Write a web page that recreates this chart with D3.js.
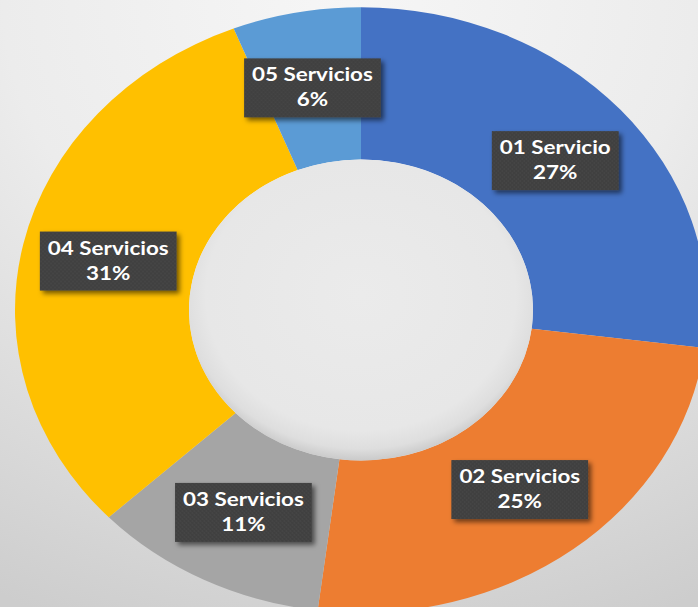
<!DOCTYPE html>
<html>
<head>
<meta charset="utf-8">
<script src="https://cdn.jsdelivr.net/npm/d3@7"></script>
<style>
  html, body { margin: 0; padding: 0; background: #e4e4e4; }
  svg { display: block; }
</style>
</head>
<body>
<script>
// Data
const categories = ["01 Servicio", "02 Servicios", "03 Servicios", "04 Servicios", "05 Servicios"];
const values = [27, 25, 11, 31, 6];
const colors = ["#4472C4", "#ED7D31", "#A5A5A5", "#FFC000", "#5B9BD5"];

let width = 698, height = 607;
let cx = 361, cy = 310;
let outerR = 346, innerR = 172;
let squash = 0.875;      // the chart is stretched wider than tall
let textStretch = 1.18;  // text is stretched the same way

let total = d3.sum(values);
let rows = categories.map((c, i) => ({ name: c, value: values[i], color: colors[i] }));

let svg = d3.select("body")
    .append("svg")
    .attr("width", width)
    .attr("height", height);

let defs = svg.append("defs");

// background gradient
let bg = defs.append("radialGradient")
    .attr("id", "bg")
    .attr("cx", "50%").attr("cy", "0%").attr("r", "110%");
bg.append("stop").attr("offset", "0%").attr("stop-color", "#f6f6f6");
bg.append("stop").attr("offset", "45%").attr("stop-color", "#ececec");
bg.append("stop").attr("offset", "100%").attr("stop-color", "#cdcdcd");

// hole gradient
let hole = defs.append("radialGradient")
    .attr("id", "hole")
    .attr("cx", "50%").attr("cy", "45%").attr("r", "55%");
hole.append("stop").attr("offset", "0%").attr("stop-color", "#ebebeb");
hole.append("stop").attr("offset", "82%").attr("stop-color", "#e7e7e7");
hole.append("stop").attr("offset", "93%").attr("stop-color", "#dedede");
hole.append("stop").attr("offset", "100%").attr("stop-color", "#cacaca");

// dotted texture for label boxes
let pat = defs.append("pattern")
    .attr("id", "dots")
    .attr("width", 4).attr("height", 4)
    .attr("patternUnits", "userSpaceOnUse");
pat.append("rect").attr("width", 4).attr("height", 4).attr("fill", "#3f3f3f");
pat.append("circle").attr("cx", 1).attr("cy", 1).attr("r", 0.8).attr("fill", "#4d4d4d");
pat.append("circle").attr("cx", 3).attr("cy", 3).attr("r", 0.8).attr("fill", "#4d4d4d");

// box shadow
let sh = defs.append("filter")
    .attr("id", "shadow")
    .attr("x", "-20%").attr("y", "-20%").attr("width", "150%").attr("height", "150%");
sh.append("feDropShadow")
    .attr("dx", 3).attr("dy", 3).attr("stdDeviation", 2.5)
    .attr("flood-color", "#000").attr("flood-opacity", 0.55);

svg.append("rect")
    .attr("width", width)
    .attr("height", height)
    .attr("fill", "url(#bg)");

// Donut
let pie = d3.pie().sort(null).value(d => d.value);
let arc = d3.arc().innerRadius(innerR).outerRadius(outerR);
let arcs = pie(rows);

let ring = svg.append("g")
    .attr("transform", `translate(${cx},${cy}) scale(1,${squash})`);

ring.selectAll("path")
    .data(arcs)
    .enter()
    .append("path")
    .attr("d", arc)
    .attr("fill", d => d.data.color);

ring.append("circle")
    .attr("r", innerR)
    .attr("fill", "url(#hole)");

// Labels at arc centroids
let labels = svg.append("g")
    .attr("class", "labels")
    .selectAll(".label")
    .data(arcs)
    .enter()
    .append("g")
    .attr("class", "label")
    .attr("transform", d => {
        let [x, y] = arc.centroid(d);
        return `translate(${cx + x},${cy + y * squash})`;
    });

let box = labels.append("rect")
    .attr("fill", "url(#dots)")
    .attr("filter", "url(#shadow)");

let txt = labels.append("g")
    .attr("transform", `scale(${textStretch},1)`)
    .style("font-family", "Lato, sans-serif")
    .style("font-weight", "bold")
    .style("font-size", "19px")
    .attr("fill", "#ffffff")
    .attr("text-anchor", "middle");

txt.append("text")
    .attr("y", -6)
    .text(d => d.data.name);

txt.append("text")
    .attr("y", 19)
    .text(d => Math.round(d.data.value / total * 100) + "%");

// size boxes around their text
labels.each(function () {
    let g = d3.select(this);
    let w = d3.max(g.selectAll("text").nodes(), n => n.getComputedTextLength()) * textStretch + 16;
    g.select("rect")
        .attr("x", -w / 2)
        .attr("y", -29)
        .attr("width", w)
        .attr("height", 59);
});
</script>
</body>
</html>
